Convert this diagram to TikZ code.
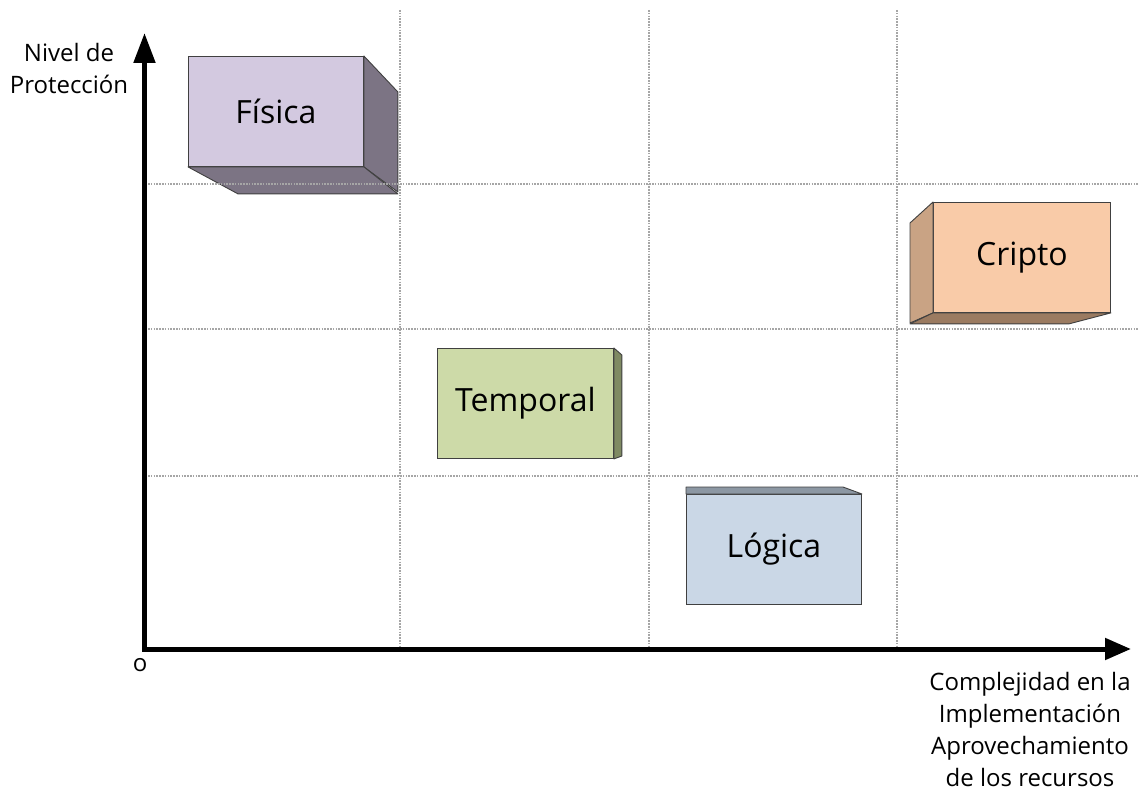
\documentclass[tikz,border=0pt]{standalone}
\usepackage{fontspec}
\setmainfont{Open Sans}
\usetikzlibrary{arrows.meta,calc}
\definecolor{fisFront}{HTML}{D3C9E0}
\definecolor{fisSide}{HTML}{7C7484}
\definecolor{criFront}{HTML}{F9CBA8}
\definecolor{criLeft}{HTML}{C9A384}
\definecolor{criBottom}{HTML}{9B7B61}
\definecolor{temFront}{HTML}{CDDAA8}
\definecolor{temSide}{HTML}{7F8A63}
\definecolor{logFront}{HTML}{CAD7E6}
\definecolor{logTop}{HTML}{8C97A3}
\begin{document}
\begin{tikzpicture}[x=1pt,y=-1pt,
  gridline/.style={draw=gray!70, line width=1.8pt, dash pattern=on 1.6pt off 1.2pt},
  axis/.style={line width=5pt, line join=miter},
  front/.style={draw=black!75, line width=0.9pt, inner sep=0pt,
    minimum width=175pt, minimum height=110pt, anchor=north west,
    font=\fontsize{32}{38}\selectfont},
  sideface/.style={draw=black!75, line width=0.9pt, line join=round},
  axislabel/.style={align=center, font=\fontsize{24}{32}\selectfont}]
\useasboundingbox (0,0) rectangle (1138,791);

% blocks
\node[front, fill=fisFront] (fisica) at (188,56) {Física};
\fill[fisSide, sideface] (fisica.north east) -- ++(34,36) -- ++(0,100) -- (fisica.south east) -- cycle;
\fill[fisSide, sideface] (fisica.south west) -- (fisica.south east) -- ++(34,27) -- ($(fisica.south west)+(50,27)$) -- cycle;

\node[front, fill=criFront, minimum width=177pt] (cripto) at (933,202) {Cripto};
\fill[criLeft, sideface] (cripto.north west) -- ++(-23,21) -- ++(0,100) -- (cripto.south west) -- cycle;
\fill[criBottom, sideface] (cripto.south west) -- (cripto.south east) -- ++(-42,11) -- ($(cripto.south west)+(-23,11)$) -- cycle;

\node[front, fill=temFront, minimum width=176pt] (temporal) at (437,348) {Temporal};
\fill[temSide, sideface] (temporal.north east) -- ++(8,7) -- ++(0,101) -- (temporal.south east) -- cycle;

\node[front, fill=logFront] (logica) at (686,494) {Lógica};
\fill[logTop, sideface] (logica.north west) -- ++(0,-7) -- ++(157,0) -- (logica.north east) -- cycle;

% grid
\foreach \gx in {400,649,897} \draw[gridline] (\gx,10) -- (\gx,648);
\foreach \gy in {184,329,476} \draw[gridline] (148,\gy) -- (1138,\gy);

% axes
\coordinate (O) at (144.5,649);
\coordinate (ytip) at (144.5,33);
\coordinate (xtip) at (1131,649);
\draw[axis, {Triangle[length=30pt,width=21pt]}-{Triangle[length=26pt,width=21pt]}] (ytip) -- (O) -- (xtip);

\node[axislabel] (ylabel) at (69,69) {Nivel de\\Protección};
\node[axislabel] (xlabel) at (1030,729) {Complejidad en la\\Implementación\\Aprovechamiento\\de los recursos};
\node[font=\fontsize{24}{28}\selectfont] (origin) at (140,665) {o};
\end{tikzpicture}
\end{document}
